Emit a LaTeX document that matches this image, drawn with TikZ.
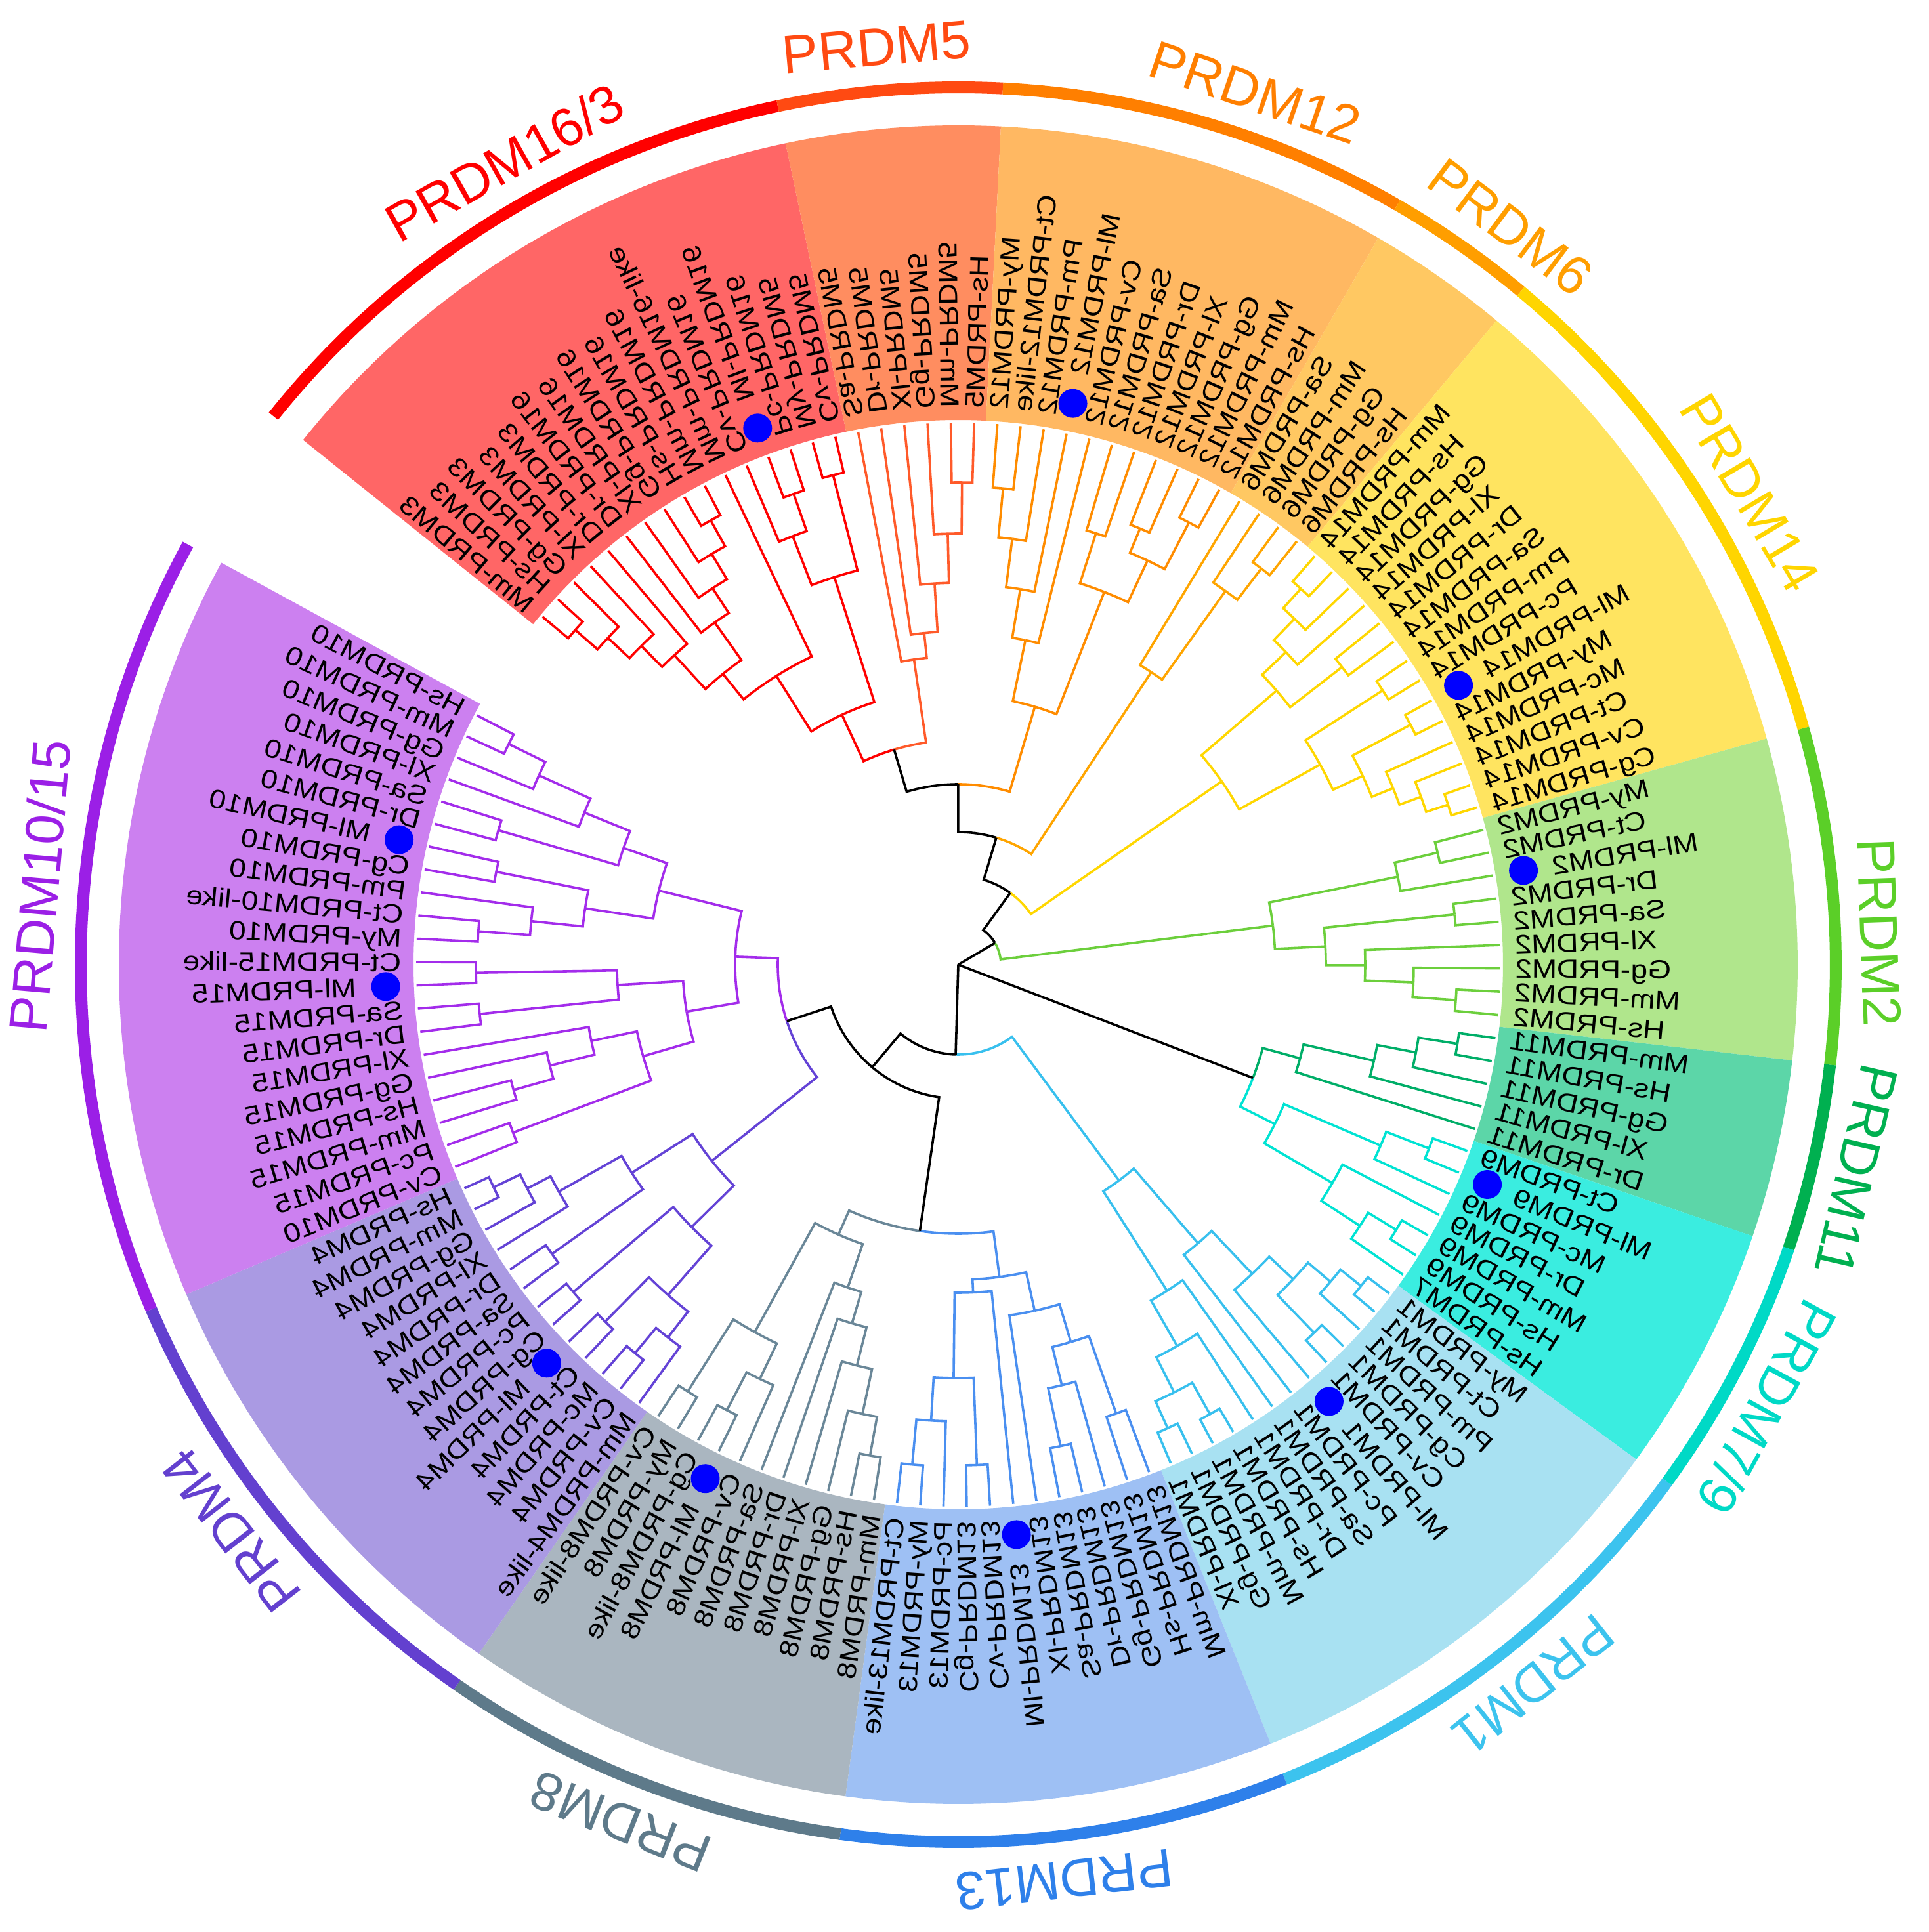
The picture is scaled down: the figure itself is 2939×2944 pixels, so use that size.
\documentclass[tikz,border=0pt]{standalone}
\usepackage{fontspec}
\setmainfont{Liberation Sans}
\newfontfamily\labfont[FakeStretch=1.15]{Liberation Sans}

\definecolor{c163}{HTML}{FF0000}\definecolor{w163}{HTML}{FF6666}\definecolor{a163}{HTML}{FF0000}
\definecolor{c5}{HTML}{FF5A2A}\definecolor{w5}{HTML}{FF8D60}\definecolor{a5}{HTML}{FF4A12}
\definecolor{c12}{HTML}{FF8C00}\definecolor{w12}{HTML}{FFB862}\definecolor{a12}{HTML}{FF7F00}
\definecolor{c6}{HTML}{FFA500}\definecolor{w6}{HTML}{FFC862}\definecolor{a6}{HTML}{FF9E00}
\definecolor{c14}{HTML}{FFD700}\definecolor{w14}{HTML}{FFE460}\definecolor{a14}{HTML}{FFD500}
\definecolor{c2}{HTML}{6CCF3C}\definecolor{w2}{HTML}{B0E68C}\definecolor{a2}{HTML}{5BCF28}
\definecolor{c11}{HTML}{00AE68}\definecolor{w11}{HTML}{5CD6A8}\definecolor{a11}{HTML}{00B050}
\definecolor{c79}{HTML}{00E3D3}\definecolor{w79}{HTML}{3AEDE0}\definecolor{a79}{HTML}{00D9C6}
\definecolor{c1}{HTML}{38C0EE}\definecolor{w1}{HTML}{A8E1F2}\definecolor{a1}{HTML}{3CC3EE}
\definecolor{c13}{HTML}{4A8FF0}\definecolor{w13}{HTML}{9EC0F4}\definecolor{a13}{HTML}{2E80EA}
\definecolor{c8}{HTML}{6A8798}\definecolor{w8}{HTML}{AAB6C0}\definecolor{a8}{HTML}{5E7A8A}
\definecolor{c4}{HTML}{6443D6}\definecolor{w4}{HTML}{AA9AE3}\definecolor{a4}{HTML}{6340CF}
\definecolor{c1015}{HTML}{A32CEB}\definecolor{w1015}{HTML}{CC80F0}\definecolor{a1015}{HTML}{9B1FE6}
\definecolor{dotblue}{HTML}{0000FF}

\newcount\tstk
\newcount\lidx
\def\thetaZero{140.07}
\def\sstep{2.4642}

\newcommand\pushN[3]{%
  \global\advance\tstk by 1
  \expandafter\xdef\csname tsa\the\tstk\endcsname{#1}%
  \expandafter\xdef\csname tsr\the\tstk\endcsname{#2}%
  \expandafter\xdef\csname tsc\the\tstk\endcsname{#3}}

\newcommand\Lgen[2]{%
  \pgfmathsetmacro\lang{\thetaZero-\the\lidx*\sstep}%
  \pushN{\lang}{826}{\curc}%
  \ifnum#2=1
    \fill[dotblue] (\lang:873) circle[radius=5.5pt];
    \def\lrad{917}%
  \else
    \def\lrad{848}%
  \fi
  \pgfmathparse{cos(\lang)}%
  \ifdim\pgfmathresult pt>0pt
    \node[leaflab,anchor=east,rotate=\lang,xscale=-1] at (\lang:\lrad) {#1};
  \else
    \node[leaflab,anchor=west,rotate=\lang-180,xscale=-1] at (\lang:\lrad) {#1};
  \fi
  \global\advance\lidx by 1\relax}
\newcommand\Lf[1]{\Lgen{#1}{0}}
\newcommand\Lm[1]{\Lgen{#1}{1}}

\newcommand\Jn[1]{%
  \edef\jaA{\csname tsa\the\numexpr\tstk-1\relax\endcsname}%
  \edef\jrA{\csname tsr\the\numexpr\tstk-1\relax\endcsname}%
  \edef\jcA{\csname tsc\the\numexpr\tstk-1\relax\endcsname}%
  \edef\jaB{\csname tsa\the\tstk\endcsname}%
  \edef\jrB{\csname tsr\the\tstk\endcsname}%
  \edef\jcB{\csname tsc\the\tstk\endcsname}%
  \pgfmathsetmacro\jaM{(\jaA+\jaB)/2}%
  \pgfmathsetmacro\jrr{#1*0.25}%
  \draw[tline,\jcA] (\jaA:\jrA) -- (\jaA:#1) arc[start angle=\jaA, end angle=\jaM, radius=\jrr pt];
  \draw[tline,\jcB] (\jaB:\jrB) -- (\jaB:#1) arc[start angle=\jaB, end angle=\jaM, radius=\jrr pt];
  \global\advance\tstk by -2
  \pushN{\jaM}{#1}{\curc}}

\newcommand\Wedge[4]{%
  \pgfmathsetmacro\wa{\thetaZero-#1*\sstep+\sstep/2}%
  \pgfmathsetmacro\wb{\thetaZero-#2*\sstep-\sstep/2}%
  \fill[#3] (\wa:830) arc[start angle=\wa,end angle=\wb,radius=207.5pt]
     -- (\wb:1279) arc[start angle=\wb,end angle=\wa,radius=319.75pt] -- cycle;
  \draw[#4,line width=4.5pt] (\wa:1337) arc[start angle=\wa,end angle=\wb,radius=334.25pt];}

\newcommand\Clab[3]{\node[cladelab,text=#2,rotate=#1-90] (cl#1) at (#1:1405) {#3};}

\begin{document}
\begin{tikzpicture}[x=0.25pt,y=0.25pt,
  tline/.style={line width=0.9pt},
  leaflab/.style={font=\labfont\fontsize{10}{11}\selectfont, inner sep=0pt, text height=7.2pt, text depth=0pt, text=black},
  cladelab/.style={font=\fontsize{20.5}{24}\selectfont, inner sep=0pt, text height=14.7pt, text depth=0pt, anchor=center}]
\useasboundingbox (-1460,-1474) rectangle (1479,1470);
\fill[white] (-1460,-1474) rectangle (1479,1470);

% clade backgrounds and outer arcs
\Wedge{0}{15}{w163}{a163}
\Wedge{16}{21}{w5}{a5}
\Wedge{22}{32}{w12}{a12}
\Wedge{33}{36}{w6}{a6}
\Wedge{37}{50}{w14}{a14}
\Wedge{51}{59}{w2}{a2}
\Wedge{60}{64}{w11}{a11}
\Wedge{65}{71}{w79}{a79}
\Wedge{72}{84}{w1}{a1}
\Wedge{85}{96}{w13}{a13}
\Wedge{97}{107}{w8}{a8}
\Wedge{108}{120}{w4}{a4}
\Wedge{121}{141}{w1015}{a1015}

% clade labels
\Clab{119.5}{a163}{PRDM16/3}
\Clab{95.1}{a5}{PRDM5}
\Clab{71.2}{a12}{PRDM12}
\Clab{53.2}{a6}{PRDM6}
\Clab{30.8}{a14}{PRDM14}
\Clab{2.0}{a2}{PRDM2}
\Clab{-12.9}{a11}{PRDM11}
\Clab{-28.7}{a79}{PRDM7/9}
\Clab{-51.4}{a1}{PRDM1}
\Clab{-83.4}{a13}{PRDM13}
\Clab{-111.5}{a8}{PRDM8}
\Clab{-142.1}{a4}{PRDM4}
\Clab{175.1}{a1015}{PRDM10/15}

% ---------------- tree ----------------
% PRDM16/3
\def\curc{c163}
\Lf{Mm-PRDM3}\Lf{Hs-PRDM3}\Jn{775}\Lf{Gg-PRDM3}\Jn{730}\Lf{Xl-PRDM3}\Jn{685}\Lf{Dr-PRDM3}\Jn{640}
\Lf{Dr-PRDM16}\Lf{Xl-PRDM16}\Lf{Gg-PRDM16}\Lf{Hs-PRDM16}\Lf{Mm-PRDM16}\Jn{775}\Jn{730}\Jn{685}\Jn{640}
\Jn{570}
\Lf{Mm-PRDM16-like}\Jn{520}
\Lf{Cv-PRDM16}\Lm{Ml-PRDM16}\Lf{Pc-PRDM16}\Jn{760}\Jn{700}\Lf{My-PRDM5}\Lf{Cv-PRDM5}\Jn{770}\Jn{620}
\Jn{420}
% PRDM5
\def\curc{c5}
\Lf{Sa-PRDM5}\Lf{Dr-PRDM5}\Lf{Xl-PRDM5}\Lf{Gg-PRDM5}\Lf{Mm-PRDM5}\Lf{Hs-PRDM5}\Jn{735}\Jn{657}\Jn{582}\Jn{508}\Jn{470}
\def\curc{black}\Jn{342}
% PRDM12
\def\curc{c12}
\Lf{My-PRDM12}\Lf{Ct-PRDM12-like}\Jn{729}\Lf{Pm-PRDM12}\Jn{654}\Lm{Ml-PRDM12}\Jn{580}\Lf{Cv-PRDM12}\Jn{505}
\Lf{Sa-PRDM12}\Lf{Dr-PRDM12}\Jn{690}\Lf{Xl-PRDM12}\Lf{Gg-PRDM12}\Jn{720}\Lf{Mm-PRDM12}\Lf{Hs-PRDM12}\Jn{760}\Jn{680}\Jn{610}
\Jn{410}
\def\curc{black}\Jn{275}
% PRDM6
\def\curc{c6}
\Lf{Sa-PRDM6}\Lf{Mm-PRDM6}\Lf{Gg-PRDM6}\Lf{Hs-PRDM6}\Jn{760}\Jn{700}\Jn{534}
\def\curc{black}\Jn{202}
% PRDM14
\def\curc{c14}
\Lf{Mm-PRDM14}\Lf{Hs-PRDM14}\Jn{775}\Lf{Gg-PRDM14}\Jn{735}\Lf{Xl-PRDM14}\Jn{690}\Lf{Dr-PRDM14}\Lf{Sa-PRDM14}\Jn{740}\Jn{640}
\Lf{Pm-PRDM14}\Lf{Pc-PRDM14}\Jn{770}\Lm{Ml-PRDM14}\Lf{My-PRDM14}\Jn{780}\Lf{Mc-PRDM14}\Lf{Ct-PRDM14}\Lf{Cv-PRDM14}\Lf{Cg-PRDM14}\Jn{785}\Jn{750}\Jn{715}\Jn{680}\Jn{630}
\Jn{489}
\def\curc{black}\Jn{135}
% PRDM2
\def\curc{c2}
\Lf{My-PRDM2}\Lf{Ct-PRDM2}\Jn{750}\Lm{Ml-PRDM2}\Jn{683}
\Lf{Dr-PRDM2}\Lf{Sa-PRDM2}\Jn{760}\Lf{Xl-PRDM2}\Lf{Gg-PRDM2}\Lf{Mm-PRDM2}\Lf{Hs-PRDM2}\Jn{760}\Jn{694}\Jn{620}\Jn{560}
\Jn{483}
\def\curc{black}\Jn{65}
% PRDM11
\def\curc{c11}
\Lf{Mm-PRDM11}\Lf{Hs-PRDM11}\Jn{770}\Lf{Gg-PRDM11}\Jn{710}\Lf{Xl-PRDM11}\Jn{650}\Lf{Dr-PRDM11}\Jn{540}
% PRDM7/9
\def\curc{c79}
\Lf{Ct-PRDM9}\Lm{Ml-PRDM9}\Jn{770}\Lf{Mc-PRDM9}\Jn{700}\Lf{Dr-PRDM9}\Lf{Mm-PRDM9}\Lf{Hs-PRDM9}\Jn{780}\Lf{Hs-PRDM7}\Jn{730}\Jn{660}\Jn{540}
\def\curc{black}\Jn{481}
% PRDM1
\def\curc{c1}
\Lf{My-PRDM1}\Lf{Ct-PRDM1}\Jn{785}\Lf{Pm-PRDM1}\Jn{745}\Lf{Cg-PRDM1}\Lf{Cv-PRDM1}\Jn{780}\Jn{700}\Lm{Ml-PRDM1}\Jn{650}\Lf{Pc-PRDM1}\Jn{560}
\Lf{Sa-PRDM1}\Lf{Dr-PRDM1}\Lf{Hs-PRDM1}\Lf{Mm-PRDM1}\Jn{785}\Lf{Gg-PRDM1}\Lf{Xl-PRDM1}\Jn{775}\Jn{730}\Jn{670}\Jn{590}
\Jn{410}
% PRDM13
\def\curc{c13}
\Lf{Mm-PRDM13}\Lf{Hs-PRDM13}\Jn{725}\Lf{Gg-PRDM13}\Lf{Dr-PRDM13}\Lf{Sa-PRDM13}\Jn{750}\Jn{660}\Jn{600}\Lf{Xl-PRDM13}\Jn{540}
\Lm{Ml-PRDM13}\Lf{Cv-PRDM13}\Lf{Cg-PRDM13}\Jn{763}\Lf{Pc-PRDM13}\Lf{My-PRDM13}\Lf{Ct-PRDM13-like}\Jn{765}\Jn{696}\Jn{630}\Jn{500}
\Jn{480}
% PRDM8
\def\curc{c8}
\Lf{Mm-PRDM8}\Lf{Hs-PRDM8}\Jn{760}\Lf{Gg-PRDM8}\Jn{700}\Lf{Xl-PRDM8}\Jn{630}\Lf{Dr-PRDM8}\Jn{570}\Lf{Sa-PRDM8}\Jn{520}
\Lf{Cv-PRDM8}\Lm{Ml-PRDM8}\Lf{Cg-PRDM8-like}\Jn{765}\Jn{700}\Lf{My-PRDM8}\Lf{Cv-PRDM8-like}\Jn{770}\Jn{640}
\Jn{450}
\def\curc{black}\Jn{410}
% PRDM4
\def\curc{c4}
\Lf{Mm-PRDM4-like}\Lf{Cv-PRDM4}\Lf{Mc-PRDM4}\Jn{770}\Jn{720}\Lf{Ct-PRDM4}\Lm{Ml-PRDM4}\Jn{765}\Jn{670}\Lf{Cg-PRDM4}\Lf{Pc-PRDM4}\Jn{770}\Jn{570}
\Lf{Sa-PRDM4}\Lf{Dr-PRDM4}\Jn{760}\Lf{Xl-PRDM4}\Lf{Gg-PRDM4}\Lf{Mm-PRDM4}\Lf{Hs-PRDM4}\Jn{785}\Jn{740}\Jn{700}\Jn{590}
\Jn{480}
% PRDM10/15
\def\curc{c1015}
\Lf{Cv-PRDM10}\Lf{Pc-PRDM15}\Jn{725}\Lf{Mm-PRDM15}\Lf{Hs-PRDM15}\Jn{704}\Lf{Gg-PRDM15}\Jn{641}\Lf{Xl-PRDM15}\Jn{571}\Jn{500}
\Lf{Dr-PRDM15}\Lf{Sa-PRDM15}\Jn{733}\Lm{Ml-PRDM15}\Lf{Ct-PRDM15-like}\Jn{735}\Jn{520}
\Jn{420}
\Lf{My-PRDM10}\Lf{Ct-PRDM10-like}\Jn{733}\Lf{Pm-PRDM10}\Jn{654}\Lf{Cg-PRDM10}\Lm{Ml-PRDM10}\Jn{718}\Jn{575}
\Lf{Dr-PRDM10}\Lf{Sa-PRDM10}\Jn{730}\Lf{Xl-PRDM10}\Lf{Gg-PRDM10}\Lf{Mm-PRDM10}\Lf{Hs-PRDM10}\Jn{763}\Jn{701}\Jn{615}\Jn{540}
\Jn{470}
\Jn{340}
% backbone of lower group and root
\def\curc{black}
\Jn{275}
\Jn{204}
\Jn{137}
\Jn{1}
\Jn{1}
\end{tikzpicture}
\end{document}
